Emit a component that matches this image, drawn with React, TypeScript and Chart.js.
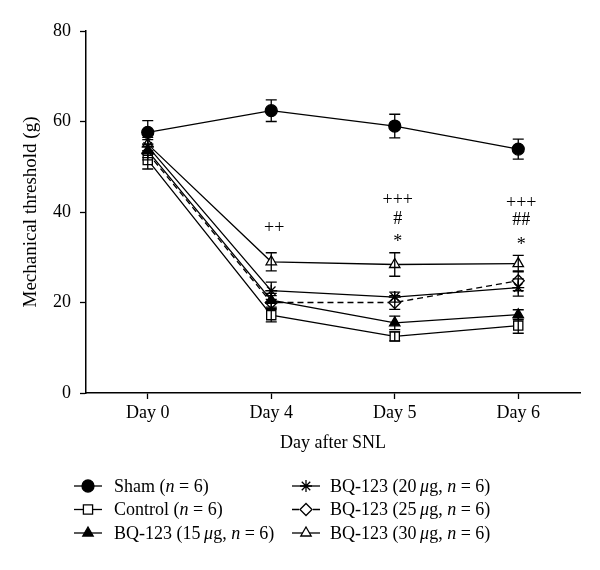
import React, { useEffect, useRef } from 'react';
import { Chart, registerables } from 'chart.js';
import { drawPoint } from 'chart.js/helpers';

Chart.register(...registerables);

// ---------- data ----------
const days = ['Day 0', 'Day 4', 'Day 5', 'Day 6'];

const shamValues = [57.6, 62.4, 59.0, 53.9];
const shamErrors = [2.6, 2.4, 2.6, 2.2];

const controlValues = [51.5, 17.2, 12.5, 14.9];
const controlErrors = [2.0, 1.5, 1.0, 1.7];

const bq15Values = [53.5, 20.5, 15.5, 17.3];
const bq15Errors = [1.5, 1.5, 1.5, 1.1];

const bq20Values = [54.5, 22.6, 21.2, 23.3];
const bq20Errors = [1.5, 1.9, 1.1, 1.9];

const bq25Values = [53.0, 20.0, 20.0, 24.8];
const bq25Errors = [1.5, 1.5, 1.5, 2.2];

const bq30Values = [55.0, 29.0, 28.4, 28.6];
const bq30Errors = [1.5, 2.0, 2.6, 1.8];

const seriesLabels = [
  'Sham (n = 6)',
  'Control (n = 6)',
  'BQ-123 (15\u2009μg, n = 6)',
  'BQ-123 (20\u2009μg, n = 6)',
  'BQ-123 (25\u2009μg, n = 6)',
  'BQ-123 (30\u2009μg, n = 6)',
];

const yTicks = [0, 20, 40, 60, 80];

// significance marks: day index, text, value at which the mark is centred
const markDay = [1, 2, 2, 2, 3, 3, 3];
const markText = ['++', '+++', '#', '*', '+++', '##', '*'];
const markValue = [36.8, 43.0, 38.8, 34.4, 42.5, 38.5, 33.7];

const xTitle = 'Day after SNL';
const yTitle = 'Mechanical threshold (g)';

// ---------- styling ----------
const FONT = '"Liberation Serif", "Times New Roman", serif';
const FS = 18;

type Style = { pointStyle: string; fill: string; radius: number; dash: number[] };
const styles: Style[] = [
  { pointStyle: 'circle', fill: '#000', radius: 6, dash: [] },
  { pointStyle: 'rect', fill: '#fff', radius: 6.5, dash: [] },
  { pointStyle: 'triangle', fill: '#000', radius: 6, dash: [] },
  { pointStyle: 'star', fill: '#000', radius: 6, dash: [] },
  { pointStyle: 'rectRot', fill: '#fff', radius: 6, dash: [6, 4] },
  { pointStyle: 'triangle', fill: '#fff', radius: 6, dash: [] },
];

const allValues = [shamValues, controlValues, bq15Values, bq20Values, bq25Values, bq30Values];
const allErrors = [shamErrors, controlErrors, bq15Errors, bq20Errors, bq25Errors, bq30Errors];

const errorBarPlugin = {
  id: 'errorBars',
  afterDatasetsDraw(chart: any) {
    const { ctx } = chart;
    const ys = chart.scales.y;
    chart.data.datasets.forEach((ds: any, i: number) => {
      const meta = chart.getDatasetMeta(i);
      const errs = allErrors[i];
      meta.data.forEach((pt: any, j: number) => {
        const v = ds.data[j];
        const e = errs[j];
        const top = ys.getPixelForValue(v + e);
        const bot = ys.getPixelForValue(v - e);
        const hw = 5.5;
        ctx.save();
        ctx.strokeStyle = '#000';
        ctx.lineWidth = 1.3;
        ctx.setLineDash([]);
        ctx.beginPath();
        ctx.moveTo(pt.x, top);
        ctx.lineTo(pt.x, bot);
        ctx.moveTo(pt.x - hw, top);
        ctx.lineTo(pt.x + hw, top);
        ctx.moveTo(pt.x - hw, bot);
        ctx.lineTo(pt.x + hw, bot);
        ctx.stroke();
        ctx.restore();
      });
    });
  },
};

const marksPlugin = {
  id: 'marks',
  afterDatasetsDraw(chart: any) {
    const { ctx } = chart;
    const xs = chart.scales.x;
    const ys = chart.scales.y;
    ctx.save();
    ctx.fillStyle = '#000';
    ctx.font = `${FS}px ${FONT}`;
    ctx.textAlign = 'center';
    ctx.textBaseline = 'alphabetic';
    markText.forEach((t, k) => {
      const x = xs.getPixelForValue(markDay[k]) + 3;
      const y = ys.getPixelForValue(markValue[k]);
      const m = ctx.measureText(t);
      const asc = m.actualBoundingBoxAscent;
      const desc = m.actualBoundingBoxDescent;
      ctx.fillText(t, x, y + (asc - desc) / 2);
    });
    ctx.restore();
  },
};

function drawRichText(ctx: CanvasRenderingContext2D, text: string, x: number, y: number) {
  const parts = text.split(/(\bn\b|μ)/).filter((p) => p.length > 0);
  let cx = x;
  parts.forEach((p) => {
    const italic = p === 'n' || p === 'μ';
    ctx.font = `${italic ? 'italic ' : ''}${FS}px ${FONT}`;
    ctx.fillText(p, cx, y);
    cx += ctx.measureText(p).width;
  });
}

const legendPlugin = {
  id: 'customLegend',
  afterDraw(chart: any) {
    const { ctx } = chart;
    const rowY = [486, 509.5, 533];
    const colLineX = [74, 292];
    const colTextX = [114, 330];
    ctx.save();
    chart.data.datasets.forEach((ds: any, i: number) => {
      const col = Math.floor(i / 3);
      const row = i % 3;
      const y = rowY[row];
      const x0 = colLineX[col];
      const st = styles[i];
      ctx.strokeStyle = '#000';
      ctx.lineWidth = 1.3;
      ctx.beginPath();
      if (st.dash.length) {
        ctx.moveTo(x0, y);
        ctx.lineTo(x0 + 7, y);
        ctx.moveTo(x0 + 21, y);
        ctx.lineTo(x0 + 28, y);
      } else {
        ctx.moveTo(x0, y);
        ctx.lineTo(x0 + 28, y);
      }
      ctx.setLineDash([]);
      ctx.stroke();
      ctx.fillStyle = st.fill;
      ctx.strokeStyle = '#000';
      ctx.lineWidth = 1.3;
      drawPoint(ctx, { pointStyle: st.pointStyle as any, radius: st.radius, rotation: 0, borderWidth: 1.3 }, x0 + 14, y);
      ctx.fillStyle = '#000';
      ctx.textAlign = 'left';
      ctx.textBaseline = 'middle';
      drawRichText(ctx, ds.label, colTextX[col], y + 1);
    });
    ctx.restore();
  },
};

export default function App() {
  const canvasRef = useRef<HTMLCanvasElement | null>(null);

  useEffect(() => {
    if (!canvasRef.current) return;
    const datasets = allValues.map((vals, i) => ({
      label: seriesLabels[i],
      data: vals,
      borderColor: '#000',
      borderWidth: 1.3,
      borderDash: styles[i].dash,
      backgroundColor: styles[i].fill,
      pointStyle: styles[i].pointStyle as any,
      pointRadius: styles[i].radius,
      pointBorderWidth: 1.3,
      pointBorderColor: '#000',
      pointBackgroundColor: styles[i].fill,
      fill: false,
      tension: 0,
    }));

    const chart = new Chart(canvasRef.current, {
      type: 'line',
      data: { labels: days, datasets },
      options: {
        animation: false,
        responsive: false,
        maintainAspectRatio: false,
        layout: { padding: { top: 31, right: 20, bottom: 112, left: 0 } },
        plugins: {
          legend: { display: false },
          tooltip: { enabled: false },
        },
        scales: {
          x: {
            type: 'category',
            offset: true,
            grid: {
              display: true,
              offset: false,
              drawOnChartArea: false,
              drawTicks: true,
              tickLength: 6,
              tickColor: '#000',
              tickWidth: 1.3,
            },
            border: { display: true, color: '#000', width: 1.5 },
            ticks: {
              color: '#000',
              font: { family: FONT, size: FS },
              padding: 3,
              maxRotation: 0,
            },
            title: {
              display: true,
              text: xTitle,
              color: '#000',
              font: { family: FONT, size: FS },
              padding: { top: 0, bottom: 4 },
            },
            afterFit: (scale: any) => {
              scale.height = 65;
            },
          },
          y: {
            min: 0,
            max: 80,
            afterBuildTicks: (scale: any) => {
              scale.ticks = yTicks.map((v) => ({ value: v }));
            },
            grid: {
              display: true,
              drawOnChartArea: false,
              drawTicks: true,
              tickLength: 6,
              tickColor: '#000',
              tickWidth: 1.3,
            },
            border: { display: true, color: '#000', width: 1.5 },
            ticks: {
              color: '#000',
              font: { family: FONT, size: FS },
              padding: 9,
            },
            title: {
              display: true,
              text: yTitle,
              color: '#000',
              font: { family: FONT, size: FS + 1 },
              padding: { top: 20, bottom: 0 },
            },
            afterFit: (scale: any) => {
              scale.width = 86;
            },
          },
        },
      },
      plugins: [errorBarPlugin, marksPlugin, legendPlugin],
    });
    return () => chart.destroy();
  }, []);

  return (
    <div style={{ position: 'absolute', left: 0, top: 0, width: 600, height: 570, background: '#fff' }}>
      <canvas ref={canvasRef} width={600} height={570} style={{ width: 600, height: 570 }} />
    </div>
  );
}
